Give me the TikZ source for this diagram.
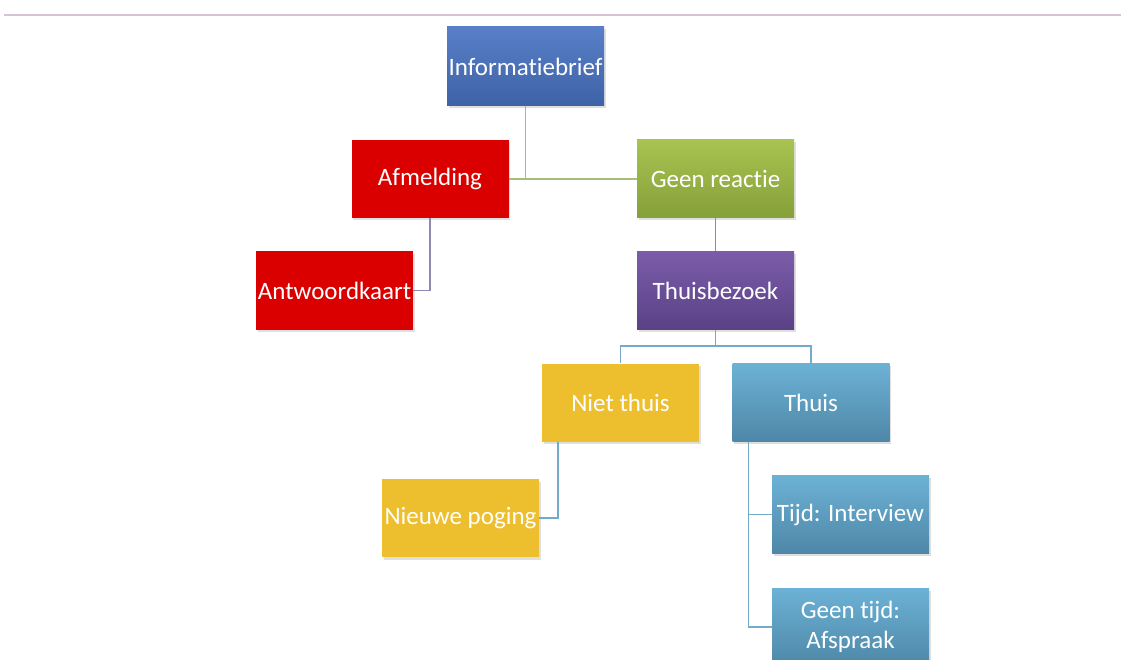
\documentclass[tikz,border=0pt]{standalone}
\usepackage{fontspec}
\setmainfont{Carlito}[Ligatures=NoCommon]
\usetikzlibrary{shadows}
\definecolor{topline}{HTML}{D7C2DA}
\definecolor{blueT}{HTML}{587FC8}\definecolor{blueB}{HTML}{3E62A6}
\definecolor{redF}{HTML}{DA0000}
\definecolor{greenT}{HTML}{A8C350}\definecolor{greenB}{HTML}{86A03A}
\definecolor{purT}{HTML}{7B5CAA}\definecolor{purB}{HTML}{5A4285}
\definecolor{yelF}{HTML}{EDBE2E}
\definecolor{tealT}{HTML}{6CB2D6}\definecolor{tealB}{HTML}{4E87A7}
\definecolor{lnGreen}{HTML}{A9BC78}
\definecolor{lnPurple}{HTML}{8E89B3}
\definecolor{lnTeal}{HTML}{72AAC9}
\tikzset{
  box/.style={rectangle, minimum width=157pt, minimum height=78pt, inner sep=1pt,
    text=white, align=center, font=\fontsize{25}{30}\selectfont,
    drop shadow={opacity=0.25, shadow xshift=1.5pt, shadow yshift=-2.5pt}},
  bluebox/.style={box, top color=blueT, bottom color=blueB},
  redbox/.style={box, fill=redF},
  greenbox/.style={box, top color=greenT, bottom color=greenB},
  purbox/.style={box, top color=purT, bottom color=purB},
  yelbox/.style={box, fill=yelF},
  tealbox/.style={box, top color=tealT, bottom color=tealB},
  conn/.style={line width=1.4pt},
}
\begin{document}
\begin{tikzpicture}[x=1pt,y=1pt]
\useasboundingbox (0,0) rectangle (1121,-660);
\clip (0,0) rectangle (1121,-660);
\fill[white] (0,0) rectangle (1121,-660);
\coordinate (tlA) at (4,-15);
\coordinate (tlB) at (1121,-15);
\draw[topline, line width=2.5pt] (tlA) -- (tlB);

\node[bluebox, minimum height=79pt] (info) at (525.5,-66.5) {Informatiebrief};
\node[redbox] (afm) at (430,-179) {Afmelding};
\node[greenbox] (geen) at (715.5,-179) {Geen reactie};
\node[redbox] (antw) at (334.5,-290.5) {Antwoordkaart};
\node[purbox] (thb) at (715.5,-290.5) {Thuisbezoek};
\node[yelbox] (niet) at (620.5,-402.5) {Niet thuis};
\node[tealbox] (thuis) at (811,-402.5) {Thuis};
\node[yelbox] (nieuwe) at (460.5,-518) {Nieuwe poging};
\node[tealbox] (tijd) at (850.5,-514.5) {Tijd: Interview};
\node[tealbox] (geentijd) at (850.5,-627) {Geen tijd:\\Afspraak};

% connectors
\draw[conn, lnGreen] (info.south) -- (info.south |- afm.east);
\draw[conn, lnGreen] (afm.east) -- (geen.west);
\draw[conn, lnPurple] (afm.south) |- (antw.east);
\draw[conn, lnPurple] (geen.south) -- (thb.north);
\coordinate (bar) at (715.5,-346);
\draw[conn, lnTeal] (thb.south) -- (bar) -| (niet.north);
\draw[conn, lnTeal] (bar) -| (thuis.north);
\coordinate (nietdrop) at ([xshift=16pt]niet.south west);
\draw[conn, lnTeal] (nietdrop) |- (nieuwe.east);
\coordinate (thuisdrop) at ([xshift=16pt]thuis.south west);
\draw[conn, lnTeal] (thuisdrop) |- (tijd.west);
\draw[conn, lnTeal] (thuisdrop) |- (geentijd.west);
\end{tikzpicture}
\end{document}
